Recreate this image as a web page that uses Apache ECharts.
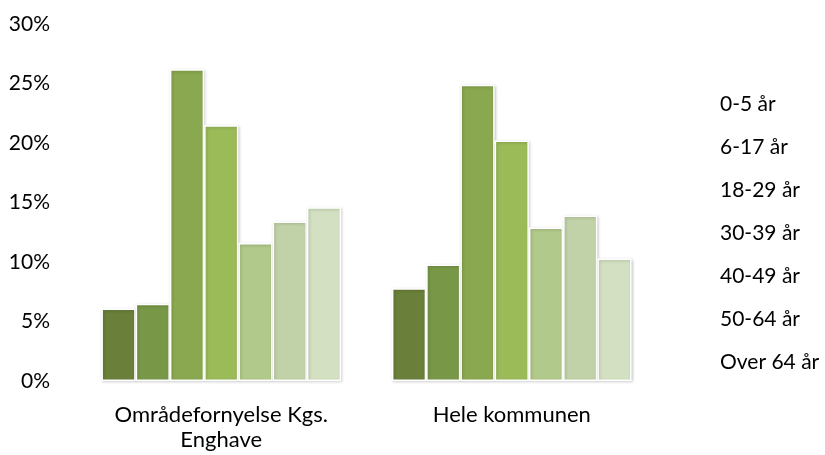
<!DOCTYPE html>
<html>
<head>
<meta charset="utf-8">
<script src="https://cdn.jsdelivr.net/npm/echarts@6/dist/echarts.min.js"></script>
<style>html,body{margin:0;padding:0;background:#fff}#c{width:825px;height:455px}</style>
</head>
<body>
<div id="c"></div>
<script>
const categories = ["Områdefornyelse Kgs.\nEnghave", "Hele kommunen"];
const seriesNames = ["0-5 år", "6-17 år", "18-29 år", "30-39 år", "40-49 år", "50-64 år", "Over 64 år"];
const v0_5 = [6.1, 7.8];
const v6_17 = [6.5, 9.8];
const v18_29 = [26.2, 24.9];
const v30_39 = [21.5, 20.2];
const v40_49 = [11.6, 12.9];
const v50_64 = [13.4, 13.9];
const vOver64 = [14.6, 10.3];
const yTicks = [0, 5, 10, 15, 20, 25, 30];
const colors = ["#6a7f3a", "#789848", "#8aa84f", "#9bbb59", "#b1c98a", "#c1d2a8", "#d3e0c1"];

const values = [v0_5, v6_17, v18_29, v30_39, v40_49, v50_64, vOver64];
const font = "Lato";
const chart = echarts.init(document.getElementById('c'));
chart.setOption({
  animation: false,
  backgroundColor: '#fff',
  color: colors,
  grid: { left: 76, right: 168, top: 24, bottom: 74 },
  legend: {
    orient: 'vertical',
    left: 709,
    top: 87,
    icon: 'rect',
    itemWidth: 0,
    itemHeight: 22,
    itemGap: 19,
    data: seriesNames,
    textStyle: { fontFamily: font, fontSize: 21, color: '#000', lineHeight: 22 }
  },
  xAxis: {
    type: 'category',
    data: categories,
    axisLine: { show: false },
    axisTick: { show: false },
    axisLabel: { fontFamily: font, fontSize: 22, color: '#000', lineHeight: 25, margin: 21 }
  },
  yAxis: {
    type: 'value',
    min: yTicks[0],
    max: yTicks[yTicks.length - 1],
    interval: 5,
    axisLine: { show: false },
    axisTick: { show: false },
    splitLine: { show: false },
    axisLabel: { fontFamily: font, fontSize: 21, color: '#000', margin: 26, formatter: '{value}%' }
  },
  series: seriesNames.map((n, i) => ({
    name: n,
    type: 'bar',
    data: values[i],
    barGap: '0%',
    barCategoryGap: '17.5%',
    itemStyle: {
      color: colors[i],
      borderColor: '#fff',
      borderWidth: 1.5,
      shadowBlur: 3,
      shadowColor: 'rgba(0,0,0,0.2)',
      shadowOffsetX: 1,
      shadowOffsetY: 1
    }
  }))
});
</script>
</body>
</html>
